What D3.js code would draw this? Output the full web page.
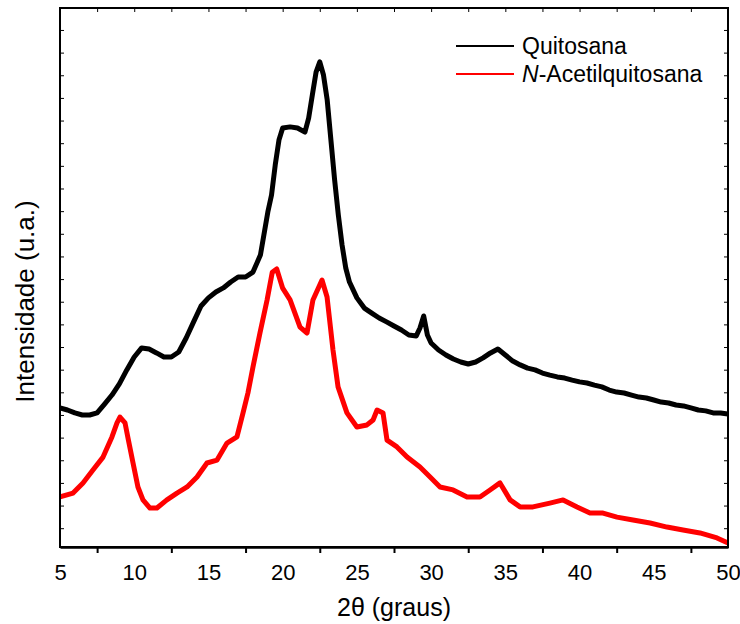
<!DOCTYPE html>
<html>
<head>
<meta charset="utf-8">
<script src="https://cdn.jsdelivr.net/npm/d3@7"></script>
<style>
  body { margin: 0; background: #fff; }
  text { font-family: "Liberation Sans", Arial, sans-serif; fill: #000; }
  .axis path, .axis line { stroke: #000; }
</style>
</head>
<body>
<div id="chart"></div>
<script>
// XRD data (2theta in degrees, intensity in arbitrary counts)

var thetaQuit = [5, 5.5, 6, 6.5, 7, 7.5, 8, 8.5, 9, 9.5, 10, 10.5, 11, 11.5, 12, 12.5, 13, 13.5, 14, 14.5,
  15, 15.5, 16, 16.5, 17, 17.5, 18, 18.5, 19, 19.25, 19.5, 19.75, 20, 20.5, 21, 21.5, 21.75, 22, 22.25, 22.5,
  22.75, 23, 23.25, 23.5, 23.75, 24, 24.25, 24.5, 25, 25.5, 26, 26.5, 27, 27.5, 28, 28.5, 29, 29.25, 29.5, 29.75,
  30, 30.5, 31, 31.5, 32, 32.5, 33, 33.5, 34, 34.5, 35, 35.5, 36, 36.5, 37, 37.5, 38, 38.5, 39, 39.5,
  40, 40.5, 41, 41.5, 42, 42.5, 43, 43.5, 44, 44.5, 45, 45.5, 46, 46.5, 47, 47.5, 48, 48.5, 49, 49.5, 50];
var quitosana = [631, 622, 609, 600, 600, 609, 648, 688, 737, 799, 856, 896, 891, 874, 856, 856, 878, 940, 1011, 1081,
  1117, 1143, 1161, 1187, 1209, 1209, 1231, 1306, 1496, 1571, 1704, 1814, 1867, 1872, 1867, 1849, 1911, 2013, 2114, 2159,
  2101, 1991, 1814, 1638, 1483, 1351, 1249, 1187, 1117, 1072, 1050, 1028, 1011, 993, 975, 953, 949, 984, 1037, 953,
  918, 887, 865, 847, 834, 825, 834, 852, 874, 891, 865, 838, 821, 807, 799, 785, 776, 768, 763, 754,
  746, 741, 732, 724, 710, 701, 697, 688, 679, 675, 666, 657, 653, 644, 640, 631, 622, 618, 609, 609, 604];

var thetaAcet = [5, 5.88, 6.55, 7.22, 7.9, 8.5, 8.84, 9.04, 9.38, 9.58, 9.92, 10.25, 10.59, 11.06, 11.53, 12.2, 12.88, 13.56, 14.23, 14.9,
  15.58, 16.25, 16.92, 17.33, 17.66, 18, 18.47, 18.95, 19.3, 19.6, 20, 20.5, 21.17, 21.64, 22.04, 22.65, 22.99, 23.39, 23.73, 24.33,
  25, 25.68, 26.09, 26.36, 26.76, 27.03, 27.7, 28.38, 29.25, 29.93, 30.6, 31.48, 32.42, 33.29, 33.97, 34.64, 35.32, 35.99, 36.86, 38,
  38.89, 39.83, 40.7, 41.58, 42.52, 43.6, 44.75, 45.89, 46.97, 48.11, 49.26, 50];
var acetilquitosana = [238, 255, 300, 357, 414, 503, 565, 591, 565, 498, 388, 282, 225, 189, 189, 225, 255, 282, 326, 388,
  401, 476, 503, 609, 697, 812, 962, 1108, 1230, 1245, 1160, 1108, 988, 962, 1108, 1196, 1121, 887, 724, 609,
  547, 556, 578, 622, 609, 489, 459, 414, 370, 326, 282, 269, 238, 238, 269, 300, 225, 194, 194, 211,
  225, 194, 167, 167, 149, 136, 123, 105, 92, 79, 57, 35];

var seriesNames = ["Quitosana", "N-Acetilquitosana"];
var seriesColors = ["#000000", "#ff0000"];
var xLabelTicks = [5, 10, 15, 20, 25, 30, 35, 40, 45, 50];

var svgWidth = 740;
var svgHeight = 624;

var margin = {
  top: 8,
  right: 12,
  bottom: 77,
  left: 60
};

var width = svgWidth - margin.left - margin.right;
var height = svgHeight - margin.top - margin.bottom;

var svg = d3.select("#chart")
  .append("svg")
  .attr("width", svgWidth)
  .attr("height", svgHeight);

var chartGroup = svg.append("g")
  .attr("transform", `translate(${margin.left}, ${margin.top})`);

// Scales
var xLinearScale = d3.scaleLinear()
  .domain([5, 50])
  .range([0, width]);

var yLinearScale = d3.scaleLinear()
  .domain([17, 2397])
  .range([height, 0]);

var yTicks = d3.range(100, 2400, 100);
var xMinor = d3.range(5, 50.01, 2.5);
var xOuter = d3.range(7.5, 50, 5);

// Clip so the lines stay inside the frame
chartGroup.append("clipPath")
  .attr("id", "plotClip")
  .append("rect")
  .attr("width", width)
  .attr("height", height);

var lineGen = d3.line()
  .x(d => xLinearScale(d[0]))
  .y(d => yLinearScale(d[1]));

var series = [
  d3.zip(thetaQuit, quitosana),
  d3.zip(thetaAcet, acetilquitosana)
];

chartGroup.append("g")
  .attr("clip-path", "url(#plotClip)")
  .selectAll("path")
  .data(series)
  .enter()
  .append("path")
  .attr("d", lineGen)
  .attr("fill", "none")
  .attr("stroke", (d, i) => seriesColors[i])
  .attr("stroke-width", 5)
  .attr("stroke-linejoin", "round");

// Axes (Origin style: labels on 5s, outward ticks on the half steps)
chartGroup.append("g")
  .attr("class", "axis")
  .attr("transform", `translate(0, ${height})`)
  .call(d3.axisBottom(xLinearScale).tickValues(xOuter).tickSize(6).tickSizeOuter(0).tickFormat(""))
  .call(g => g.select(".domain").attr("stroke-width", 2.5))
  .selectAll("line").attr("stroke-width", 2);

chartGroup.append("g")
  .attr("transform", `translate(0, ${height})`)
  .call(d3.axisBottom(xLinearScale).tickValues(xLabelTicks).tickSize(0).tickPadding(17))
  .call(g => g.select(".domain").remove())
  .selectAll("text")
  .attr("font-size", 22);

chartGroup.append("g")
  .attr("class", "axis")
  .call(d3.axisBottom(xLinearScale).tickValues(xMinor).tickSize(4).tickSizeOuter(0).tickFormat(""))
  .call(g => g.select(".domain").remove());

chartGroup.append("g")
  .attr("class", "axis")
  .call(d3.axisRight(yLinearScale).tickValues(yTicks).tickSize(4).tickSizeOuter(0).tickFormat(""))
  .call(g => g.select(".domain").remove());

chartGroup.append("g")
  .attr("class", "axis")
  .attr("transform", `translate(${width}, 0)`)
  .call(d3.axisLeft(yLinearScale).tickValues(yTicks).tickSize(4).tickSizeOuter(0).tickFormat(""))
  .call(g => g.select(".domain").remove());

// Frame
chartGroup.append("rect")
  .attr("width", width)
  .attr("height", height)
  .attr("fill", "none")
  .attr("stroke", "#000")
  .attr("stroke-width", 2);

// Legend
var legend = chartGroup.append("g")
  .attr("transform", "translate(396, 38)");

seriesNames.forEach(function(name, i) {
  var row = legend.append("g").attr("transform", `translate(0, ${i * 28})`);
  row.append("line")
    .attr("x1", 0)
    .attr("x2", 58)
    .attr("stroke", seriesColors[i])
    .attr("stroke-width", 2);
  var t = row.append("text")
    .attr("x", 66)
    .attr("y", 8)
    .attr("font-size", 23);
  if (i === 1) {
    t.append("tspan").attr("font-style", "italic").text("N");
    t.append("tspan").text("-Acetilquitosana");
  } else {
    t.text(name);
  }
});

// Axis labels
chartGroup.append("text")
  .attr("transform", "rotate(-90)")
  .attr("y", -margin.left + 34)
  .attr("x", -(height / 2) - 24)
  .attr("text-anchor", "middle")
  .attr("font-size", 26)
  .text("Intensidade (u.a.)");

chartGroup.append("text")
  .attr("x", width / 2)
  .attr("y", height + 69)
  .attr("text-anchor", "middle")
  .attr("font-size", 25)
  .text("2θ (graus)");
</script>
</body>
</html>
